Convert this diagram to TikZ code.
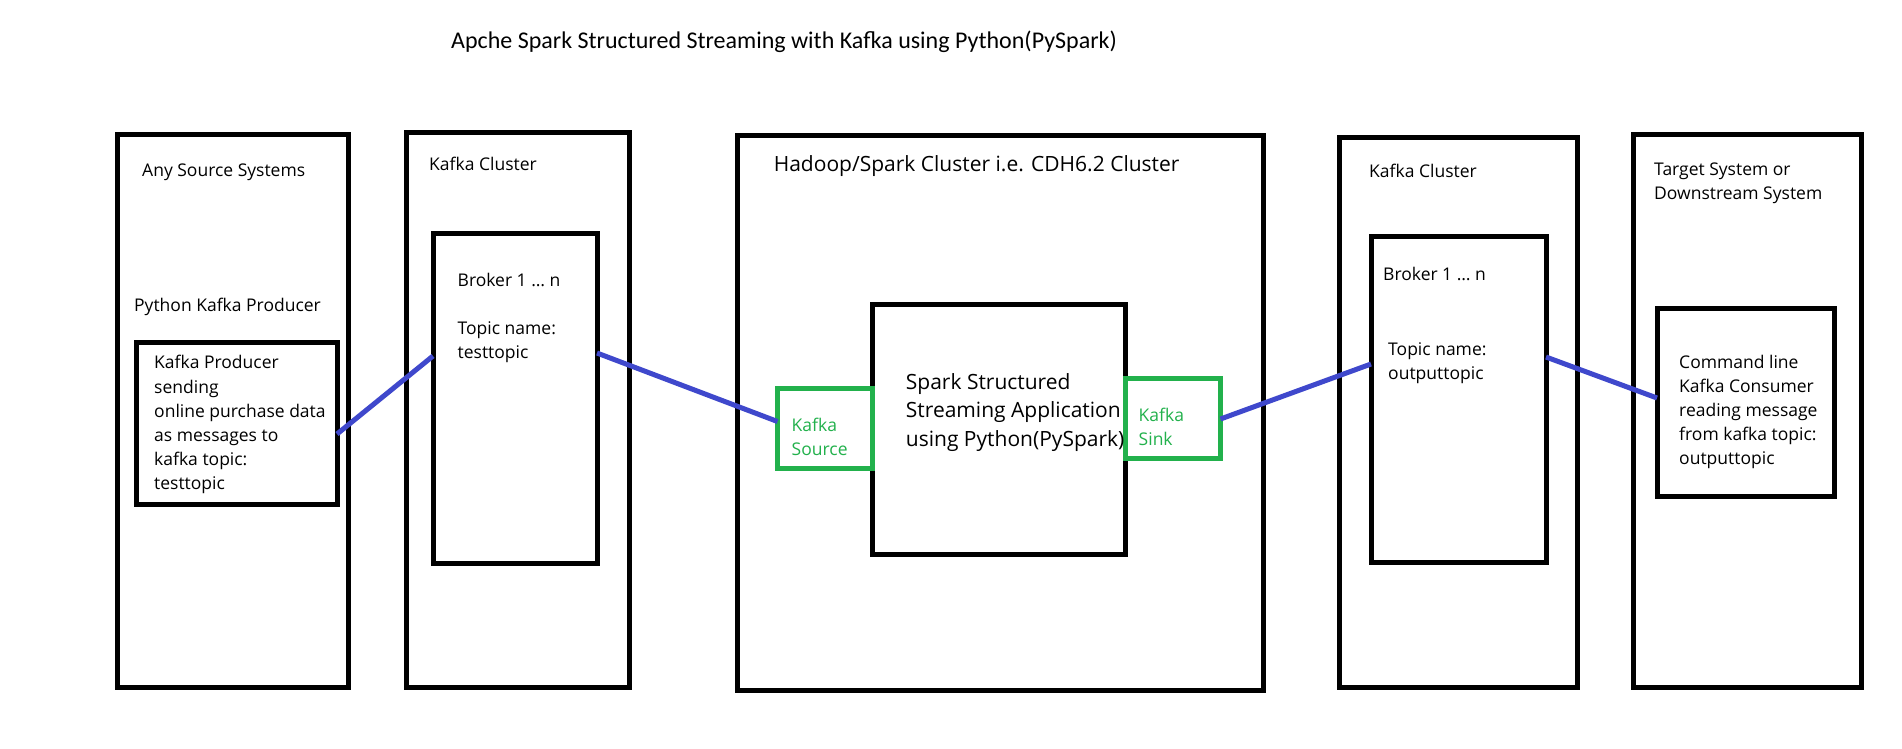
\documentclass[tikz,border=0pt]{standalone}
\usepackage{fontspec}
\setmainfont{Open Sans}
\newfontfamily\titlefont{Carlito}
\definecolor{pgreen}{HTML}{22B14C}
\definecolor{pblue}{HTML}{3F48CC}
\tikzset{
  box/.style={draw=black, line width=5pt, inner sep=0pt, outer sep=0pt, anchor=center},
  gbox/.style={draw=pgreen, line width=5pt, inner sep=0pt, outer sep=0pt, anchor=center},
  lbl/.style={inner sep=0pt, anchor=base west, font=\fontsize{17.5}{24.2}\selectfont},
  mlbl/.style={inner sep=0pt, anchor=north west, align=left, font=\fontsize{17.5}{24.2}\selectfont},
  biglbl/.style={inner sep=0pt, anchor=base west, font=\fontsize{21}{28.7}\selectfont},
  bigmlbl/.style={inner sep=0pt, anchor=north west, align=left, font=\fontsize{21}{28.7}\selectfont},
  ttl/.style={inner sep=0pt, anchor=base west, font=\titlefont\fontsize{24}{29}\selectfont},
  link/.style={draw=pblue, line width=5pt},
}
\begin{document}
\begin{tikzpicture}[x=1pt,y=-1pt]
\useasboundingbox[fill=white] (0,0) rectangle (1902,748);
% title
\node[ttl] (title) at (451,48) {Apche Spark Structured Streaming with Kafka using Python(PySpark)};
% black boxes
\node[box, minimum width=231pt, minimum height=553pt] (b1) at (232.5,410.5) {};
\node[box, minimum width=201pt, minimum height=162pt] (prod) at (236.5,423) {};
\node[box, minimum width=223pt, minimum height=555pt] (b2) at (517.5,409.5) {};
\node[box, minimum width=164pt, minimum height=330pt] (brk1) at (515,398) {};
\node[box, minimum width=526pt, minimum height=555pt] (hd) at (1000,412.5) {};
\node[box, minimum width=253pt, minimum height=250pt] (spark) at (998.5,429) {};
\node[box, minimum width=238pt, minimum height=550pt] (b4) at (1458,412) {};
\node[box, minimum width=175pt, minimum height=326pt] (brk2) at (1458.5,399) {};
\node[box, minimum width=228pt, minimum height=553pt] (tgt) at (1747,410.5) {};
\node[box, minimum width=177pt, minimum height=188pt] (cons) at (1745.5,402) {};
% green boxes
\node[gbox, minimum width=94.5pt, minimum height=80pt] (src) at (824.75,428) {};
\node[gbox, minimum width=95.5pt, minimum height=80pt] (sink) at (1172.75,418) {};
% labels
\node[lbl] (tany) at (142,176) {Any Source Systems};
\node[lbl] (tpkp) at (134,311) {Python Kafka Producer};
\node[mlbl] (tprod) at (154,351.7) {\strut Kafka Producer\\sending\\online purchase data\\as messages to\\kafka topic:\\testtopic};
\node[lbl] (tkc1) at (429,170) {Kafka Cluster};
\node[lbl] (tbrk1) at (457.5,286) {Broker 1 … n};
\node[mlbl] (ttop1) at (457.5,317.6) {\strut Topic name:\\testtopic};
\node[biglbl] (thd) at (773.6,171) {Hadoop/Spark Cluster i.e. CDH6.2 Cluster};
\node[bigmlbl] (tspark) at (905.7,368.9) {\strut Spark Structured\\Streaming Application\\using Python(PySpark)};
\node[mlbl, text=pgreen] (tsrc) at (791.5,414) {\strut Kafka\\Source};
\node[mlbl, text=pgreen] (tsink) at (1138.5,404) {\strut Kafka\\Sink};
\node[lbl] (tkc2) at (1369,177) {Kafka Cluster};
\node[lbl] (tbrk2) at (1383,280) {Broker 1 … n};
\node[mlbl] (ttop2) at (1388,338) {\strut Topic name:\\outputtopic};
\node[mlbl] (ttgt) at (1654,158.6) {\strut Target System or\\Downstream System};
\node[mlbl] (tcons) at (1679,351) {\strut Command line\\Kafka Consumer\\reading message\\from kafka topic:\\outputtopic};
% connectors
\draw[link] ([yshift=-11pt]prod.east) -- ([yshift=42pt]brk1.west);
\draw[link] ([yshift=45pt]brk1.east) -- ([yshift=6.5pt]src.west);
\draw[link] ([yshift=-1pt]sink.east) -- ([yshift=35pt]brk2.west);
\draw[link] ([yshift=42pt]brk2.east) -- ([yshift=4pt]cons.west);
\end{tikzpicture}
\end{document}
